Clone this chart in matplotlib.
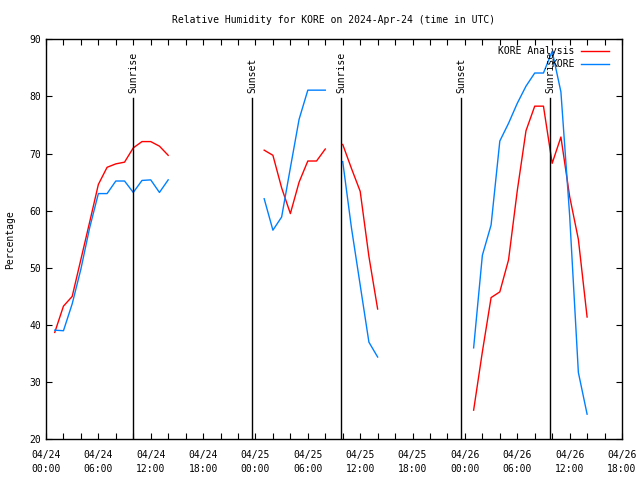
import numpy as np
import matplotlib
matplotlib.use("Agg")
import matplotlib.pyplot as plt
from matplotlib.ticker import MultipleLocator

# hours since 2024-04-24 00:00 UTC
hours = list(range(1, 63))
N = None
analysis = [38.7, 43.3, 45.0, 51.5, 58.0, 64.6, 67.6, 68.2, 68.5, 71.0, 72.1, 72.1, 71.3, 69.7,
            N, N, N, N, N, N, N, N, N, N,
            70.6, 69.7, 64.0, 59.5, 65.0, 68.7, 68.7, 70.8,
            N,
            71.6, 67.4, 63.4, 52.0, 42.8,
            N, N, N, N, N, N, N, N, N, N,
            25.1, 35.3, 44.8, 45.8, 51.4, 63.5, 74.0, 78.3, 78.3, 68.3, 72.9, 62.5, 55.0, 41.4]
obs = [39.1, 39.0, 43.7, 49.8, 57.0, 63.0, 63.0, 65.2, 65.2, 63.2, 65.3, 65.4, 63.2, 65.4,
       N, N, N, N, N, N, N, N, N, N,
       62.1, 56.6, 58.9, 67.5, 76.0, 81.1, 81.1, 81.1,
       N,
       68.6, 57.0, 47.0, 37.0, 34.4,
       N, N, N, N, N, N, N, N, N, N,
       36.0, 52.2, 57.5, 72.2, 75.3, 78.8, 81.8, 84.1, 84.1, 87.9, 80.8, 59.2, 31.7, 24.4]

sun_times = [9.97, 23.62, 33.82, 47.6, 57.77]
sun_labels = ["Sunrise", "Sunset", "Sunrise", "Sunset", "Sunrise"]

tick_hours = list(range(0, 67, 6))
tick_labels = ["04/24\n00:00", "04/24\n06:00", "04/24\n12:00", "04/24\n18:00",
               "04/25\n00:00", "04/25\n06:00", "04/25\n12:00", "04/25\n18:00",
               "04/26\n00:00", "04/26\n06:00", "04/26\n12:00", "04/26\n18:00"]

plt.rcParams['font.family'] = ['DejaVu Sans Mono']
fs = 7

fig = plt.figure(figsize=(6.4, 4.8), dpi=100)
ax = fig.add_axes([46/640, 1-439.3/480, 576/640, 400/480])

a = np.array([np.nan if v is None else v for v in analysis], dtype=float)
o = np.array([np.nan if v is None else v for v in obs], dtype=float)
ax.plot(hours, a, color='#ff0000', lw=1, label='KORE Analysis')
ax.plot(hours, o, color='#0080ff', lw=1, label='KORE')

for t, lab in zip(sun_times, sun_labels):
    ax.plot([t, t], [20, 79.8], color='black', lw=1)
    ax.text(t, 80.6, lab, rotation=90, ha='center', va='bottom', fontsize=fs)

ax.set_xlim(0, 66)
ax.set_ylim(20, 90)
ax.set_xticks(tick_hours)
ax.set_xticklabels(tick_labels, linespacing=1.5)
ax.xaxis.set_minor_locator(MultipleLocator(2))
ax.set_yticks(range(20, 91, 10))
ax.tick_params(axis='both', which='both', direction='in', top=True, right=True,
               labelsize=fs, length=4, width=0.8)
ax.tick_params(axis='x', which='major', pad=8)
for s in ax.spines.values():
    s.set_linewidth(1)

ax.set_title("Relative Humidity for KORE on 2024-Apr-24 (time in UTC)", fontsize=fs, pad=12)
ax.set_ylabel("Percentage", fontsize=fs, labelpad=10)

ax.legend(loc='upper right', frameon=False, markerfirst=False, fontsize=fs,
          handlelength=2.9, handletextpad=0.7, labelspacing=0.3, borderaxespad=0.3,
          bbox_to_anchor=(0.99, 1.0))

fig.savefig("out.png", dpi=100)
